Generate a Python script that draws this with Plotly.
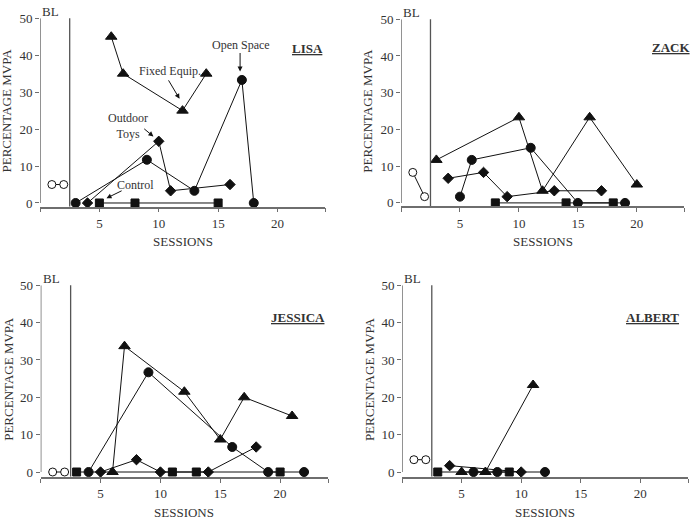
import plotly.graph_objects as go

# ---------------- DATA ----------------
# LISA
lisa_bl_x = [1, 2]
lisa_bl_y = [5, 5]
lisa_fixed_x = [6, 7, 12, 14]
lisa_fixed_y = [45, 35, 25, 35]
lisa_toys_x = [4, 10, 11, 16]
lisa_toys_y = [0, 16.7, 3.3, 5]
lisa_open_x = [3, 9, 13, 17, 18]
lisa_open_y = [0, 11.7, 3.3, 33.3, 0]
lisa_ctrl_x = [5, 8, 15]
lisa_ctrl_y = [0, 0, 0]

# ZACK
zack_bl_x = [1, 2]
zack_bl_y = [8.3, 1.7]
zack_fixed_x = [3, 10, 12, 16, 20]
zack_fixed_y = [11.7, 23.3, 3.3, 23.3, 5]
zack_toys_x = [4, 7, 9, 13, 17]
zack_toys_y = [6.7, 8.3, 1.7, 3.3, 3.3]
zack_open_x = [5, 6, 11, 15, 19]
zack_open_y = [1.7, 11.7, 15, 0, 0]
zack_ctrl_x = [8, 14, 18]
zack_ctrl_y = [0, 0, 0]

# JESSICA
jess_bl_x = [1, 2]
jess_bl_y = [0, 0]
jess_fixed_x = [6, 7, 12, 15, 17, 21]
jess_fixed_y = [0, 33.7, 21.5, 8.7, 20, 15]
jess_toys_x = [5, 8, 10, 14, 18]
jess_toys_y = [0, 3.3, 0, 0, 6.7]
jess_open_x = [4, 9, 16, 19, 22]
jess_open_y = [0, 26.7, 6.7, 0, 0]
jess_ctrl_x = [3, 11, 13, 20]
jess_ctrl_y = [0, 0, 0, 0]

# ALBERT
alb_bl_x = [1, 2]
alb_bl_y = [3.3, 3.3]
alb_fixed_x = [5, 7, 11]
alb_fixed_y = [0, 0, 23.3]
alb_toys_x = [4, 10]
alb_toys_y = [1.7, 0]
alb_open_x = [6, 8, 12]
alb_open_y = [0, 0, 0]
alb_ctrl_x = [3, 9]
alb_ctrl_y = [0, 0]

names = ["LISA", "ZACK", "JESSICA", "ALBERT"]
x_tickvals = [0, 5, 10, 15, 20, 24]
x_ticktext = ["", "5", "10", "15", "20", ""]
y_tickvals = [0, 10, 20, 30, 40, 50]
bl_phase_x = 2.5

panels = [
    dict(bl=(lisa_bl_x, lisa_bl_y), fixed=(lisa_fixed_x, lisa_fixed_y), toys=(lisa_toys_x, lisa_toys_y),
         open=(lisa_open_x, lisa_open_y), ctrl=(lisa_ctrl_x, lisa_ctrl_y)),
    dict(bl=(zack_bl_x, zack_bl_y), fixed=(zack_fixed_x, zack_fixed_y), toys=(zack_toys_x, zack_toys_y),
         open=(zack_open_x, zack_open_y), ctrl=(zack_ctrl_x, zack_ctrl_y)),
    dict(bl=(jess_bl_x, jess_bl_y), fixed=(jess_fixed_x, jess_fixed_y), toys=(jess_toys_x, jess_toys_y),
         open=(jess_open_x, jess_open_y), ctrl=(jess_ctrl_x, jess_ctrl_y)),
    dict(bl=(alb_bl_x, alb_bl_y), fixed=(alb_fixed_x, alb_fixed_y), toys=(alb_toys_x, alb_toys_y),
         open=(alb_open_x, alb_open_y), ctrl=(alb_ctrl_x, alb_ctrl_y)),
]

W, H = 693, 521
# pixel geometry of each panel: (x_left, x_right, y_top(50), y_axisline, y_min)
geom = [
    (40, 325, 11.5, 204, -1.0),
    (401, 684, 12.5, 203.5, -0.9),
    (40.7, 328, 284.3, 480, -1.3),
    (402, 688, 284.3, 480, -1.3),
]
name_pos = [(22.5, 41.9), (22.9, 42.3), (21.5, 41.4), (21.0, 41.4)]


def px(x):
    return x / W


def py(y):
    return 1 - y / H


FONT = "Liberation Serif, Times New Roman, serif"
INK = "#111111"
AXC = "#6e6e6e"
TXT = "#333333"

fig = go.Figure()
layout = dict(width=W, height=H, margin=dict(l=0, r=0, t=0, b=0),
              paper_bgcolor="white", plot_bgcolor="white", showlegend=False,
              font=dict(family=FONT, size=13, color=TXT))
shapes = []
annotations = []


def ann(**kw):
    kw.setdefault("xanchor", "center")
    kw.setdefault("yanchor", "middle")
    kw.setdefault("showarrow", False)
    annotations.append(kw)


for i, p in enumerate(panels):
    k = "" if i == 0 else str(i + 1)
    xa, ya = "x" + k, "y" + k
    xl, xr, yt, yb, ymin = geom[i]
    layout["xaxis" + k] = dict(domain=[px(xl), px(xr)], range=[0, 24], anchor=ya,
                               tickvals=x_tickvals, ticktext=x_ticktext, ticks="outside",
                               ticklen=4, tickcolor=AXC, showline=True, linecolor=AXC,
                               linewidth=1.5, showgrid=False, zeroline=False,
                               tickfont=dict(family=FONT, size=13, color=TXT))
    layout["yaxis" + k] = dict(domain=[py(yb), py(yt)], range=[ymin, 50], anchor=xa,
                               tickvals=y_tickvals, ticks="outside", ticklen=4, tickcolor=AXC,
                               showline=False, showgrid=False, zeroline=False,
                               tickfont=dict(family=FONT, size=13, color=TXT))
    # y axis line from 0 to 50
    shapes.append(dict(type="line", xref=xa, yref=ya, x0=0, x1=0, y0=0, y1=50,
                       line=dict(color=AXC, width=1.5)))
    # BL phase line
    shapes.append(dict(type="line", xref=xa, yref=ya, x0=bl_phase_x, x1=bl_phase_x, y0=ymin, y1=50.8,
                       line=dict(color="#555555", width=1.3)))

    def add(series, symbol, size, fill=INK):
        fig.add_trace(go.Scatter(x=series[0], y=series[1], xaxis=xa, yaxis=ya,
                                 mode="lines+markers", cliponaxis=False,
                                 line=dict(color=INK, width=1),
                                 marker=dict(symbol=symbol, size=size, color=fill,
                                             line=dict(color=INK, width=1))))

    add(p["ctrl"], "square", 8)
    add(p["toys"], "diamond", 8)
    add(p["open"], "circle", 9)
    add(p["fixed"], "triangle-up", 10)
    add(p["bl"], "circle", 8, fill="white")

    # participant name
    nx, ny = name_pos[i]
    ann(x=nx, y=ny, xref=xa, yref=ya, text="<b><u>" + names[i] + "</u></b>",
        font=dict(family=FONT, size=13, color=TXT))
    # BL label
    ann(x=0.9, y=py(yt - 6.5), xref=xa, yref="paper", text="BL",
        font=dict(family=FONT, size=13, color=TXT))
    # axis titles
    ann(x=px((xl + xr) / 2), y=py(yb + 36), xref="paper", yref="paper", text="SESSIONS",
        font=dict(family=FONT, size=13, color=TXT))
    ann(x=px(xl - 33), y=py(yt + (yb - 4 - yt) / 2), xref="paper", yref="paper",
        text="PERCENTAGE MVPA", textangle=-90, font=dict(family=FONT, size=13, color=TXT))

# LISA condition labels with arrows
labels = [
    ("Fixed Equip.", 10.95, 35.7, 10.75, 33.6, 11.75, 28.2),
    ("Outdoor<br>Toys", 7.4, 20.8, 8.65, 20.4, 9.55, 18.0),
    ("Control", 8.0, 5.0, 7.0, 3.5, 5.6, 1.3),
    ("Open Space", 16.9, 42.8, 16.85, 41.0, 16.85, 35.6),
]
for txt, tx, ty, ax0, ay0, hx, hy in labels:
    ann(x=tx, y=ty, xref="x", yref="y", text=txt, font=dict(family=FONT, size=12, color=TXT))
    annotations.append(dict(x=hx, y=hy, ax=ax0, ay=ay0, xref="x", yref="y", axref="x", ayref="y",
                            text="", showarrow=True, arrowhead=2, arrowsize=1, arrowwidth=1,
                            arrowcolor=INK))

layout["shapes"] = shapes
layout["annotations"] = annotations
fig.update_layout(**layout)
fig.write_html("out.html", config={"displayModeBar": False},
               post_script="document.body.style.margin='0px';")
